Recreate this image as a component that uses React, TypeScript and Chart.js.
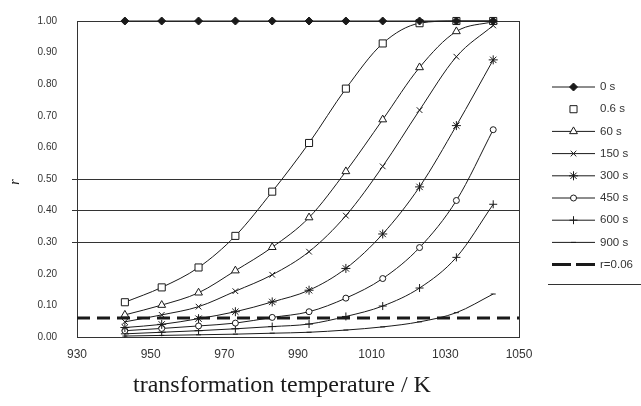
import { useEffect, useRef } from "react";
import { Chart, registerables } from "chart.js";
import { drawPoint } from "chart.js/helpers";

Chart.register(...registerables);

// Transformation temperatures (K)
const temperatures = [943, 953, 963, 973, 983, 993, 1003, 1013, 1023, 1033, 1043];

// Transformed fraction r for each holding time
const r0s = [1.0, 1.0, 1.0, 1.0, 1.0, 1.0, 1.0, 1.0, 1.0, 1.0, 1.0];
const r06s = [0.11, 0.157, 0.22, 0.32, 0.46, 0.614, 0.786, 0.929, 0.993, 1.0, 1.0];
const r60s = [0.07, 0.101, 0.14, 0.21, 0.284, 0.378, 0.524, 0.688, 0.853, 0.967, 0.998];
const r150s = [0.048, 0.07, 0.096, 0.145, 0.197, 0.27, 0.384, 0.54, 0.718, 0.887, 0.986];
const r300s = [0.03, 0.04, 0.058, 0.08, 0.111, 0.148, 0.217, 0.326, 0.475, 0.669, 0.877];
const r450s = [0.02, 0.027, 0.035, 0.044, 0.062, 0.08, 0.123, 0.185, 0.283, 0.432, 0.656];
const r600s = [0.01, 0.015, 0.02, 0.026, 0.033, 0.041, 0.065, 0.098, 0.155, 0.252, 0.42];
const r900s = [0.003, 0.005, 0.007, 0.009, 0.012, 0.015, 0.022, 0.032, 0.048, 0.077, 0.136];

const seriesLabels = ["0 s", "0.6 s", "60 s", "150 s", "300 s", "450 s", "600 s", "900 s"];
const seriesValues = [r0s, r06s, r60s, r150s, r300s, r450s, r600s, r900s];

// Threshold line
const thresholdLabel = "r=0.06";
const thresholdValue = 0.06;

// Reference levels drawn as horizontal lines
const referenceLevels = [0.3, 0.4, 0.5];

// Axes
const X_MIN = 930;
const X_MAX = 1050;
const X_STEP = 20;
const Y_MIN = 0;
const Y_MAX = 1;
const Y_STEP = 0.1;
const xTitle = "transformation temperature / K";
const yTitle = "r";

const INK = "#1a1a1a";

type MarkerStyle = {
  pointStyle: string;
  radius: number;
  fill: string;
  showLine: boolean;
};

const markers: MarkerStyle[] = [
  { pointStyle: "rectRot", radius: 4, fill: INK, showLine: true },
  { pointStyle: "rect", radius: 5, fill: "#fff", showLine: false },
  { pointStyle: "triangle", radius: 4.5, fill: "#fff", showLine: true },
  { pointStyle: "crossRot", radius: 4, fill: "#fff", showLine: true },
  { pointStyle: "star", radius: 4.5, fill: "#fff", showLine: true },
  { pointStyle: "circle", radius: 3, fill: "#fff", showLine: true },
  { pointStyle: "cross", radius: 4, fill: "#fff", showLine: true },
  { pointStyle: "line", radius: 2.5, fill: "#fff", showLine: true },
];

const framePlugin = {
  id: "frame",
  beforeDatasetsDraw(chart: any) {
    const { ctx, chartArea } = chart;
    ctx.save();
    ctx.strokeStyle = "#333";
    ctx.lineWidth = 1;
    ctx.strokeRect(
      Math.round(chartArea.left) + 0.5,
      Math.round(chartArea.top) + 0.5,
      Math.round(chartArea.right - chartArea.left),
      Math.round(chartArea.bottom - chartArea.top)
    );
    ctx.restore();
  },
};

const titlesPlugin = {
  id: "axisTitles",
  afterDraw(chart: any) {
    const { ctx, chartArea } = chart;
    ctx.save();
    ctx.fillStyle = INK;
    ctx.textAlign = "center";
    ctx.textBaseline = "middle";
    ctx.font = '24px "Liberation Serif"';
    ctx.fillText(xTitle, (chartArea.left + chartArea.right) / 2 - 16, 386);
    ctx.translate(15, (chartArea.top + chartArea.bottom) / 2 + 3);
    ctx.rotate(-Math.PI / 2);
    ctx.font = 'italic 14px "Liberation Serif"';
    ctx.fillText(yTitle, 0, 0);
    ctx.restore();
  },
};

const legendPlugin = {
  id: "sideLegend",
  afterDraw(chart: any) {
    const { ctx } = chart;
    const x0 = 552;
    const x1 = 595;
    const tx = 600;
    const top = 87;
    const step = 22.2;
    ctx.save();
    chart.data.datasets.forEach((ds: any, i: number) => {
      const y = top + i * step;
      if (ds.legendLine) {
        ctx.beginPath();
        ctx.strokeStyle = INK;
        ctx.lineWidth = ds.borderWidth;
        ctx.setLineDash(ds.legendDash || []);
        ctx.moveTo(x0, y);
        ctx.lineTo(x1, y);
        ctx.stroke();
        ctx.setLineDash([]);
      }
      if (ds.pointRadius > 0) {
        ctx.fillStyle = ds.pointBackgroundColor;
        ctx.strokeStyle = INK;
        ctx.lineWidth = 1;
        drawPoint(
          ctx,
          { pointStyle: ds.pointStyle, radius: ds.pointRadius, rotation: 0, borderWidth: 1 } as any,
          (x0 + x1) / 2,
          y
        );
      }
      ctx.fillStyle = "#333";
      ctx.font = '11.5px "Liberation Sans"';
      ctx.textAlign = "left";
      ctx.textBaseline = "middle";
      ctx.fillText(ds.label, tx, y);
    });
    const lineY = top + (chart.data.datasets.length - 1) * step + 19;
    ctx.beginPath();
    ctx.strokeStyle = "#333";
    ctx.lineWidth = 1;
    ctx.moveTo(548, Math.round(lineY) + 0.5);
    ctx.lineTo(641, Math.round(lineY) + 0.5);
    ctx.stroke();
    ctx.restore();
  },
};

export default function App() {
  const canvasRef = useRef<HTMLCanvasElement | null>(null);

  useEffect(() => {
    document.body.style.margin = "0";
    const canvas = canvasRef.current;
    if (!canvas) return;

    const seriesSets = seriesLabels.map((label, i) => {
      const m = markers[i];
      return {
        label,
        data: temperatures.map((t, k) => ({ x: t, y: seriesValues[i][k] })),
        borderColor: INK,
        borderWidth: 1,
        pointStyle: m.pointStyle,
        pointRadius: m.radius,
        pointBackgroundColor: m.fill,
        pointBorderColor: INK,
        pointBorderWidth: 1,
        tension: 0.4,
        cubicInterpolationMode: "monotone",
        clip: false,
        legendLine: m.showLine,
        order: 1,
      };
    });

    const thresholdSet = {
      label: thresholdLabel,
      data: [
        { x: X_MIN, y: thresholdValue },
        { x: X_MAX, y: thresholdValue },
      ],
      borderColor: INK,
      borderWidth: 3,
      borderDash: [13, 7],
      legendDash: [19, 5],
      pointRadius: 0,
      clip: false,
      legendLine: true,
      order: 0,
    };

    const chart = new Chart(canvas, {
      type: "line",
      data: { datasets: [...seriesSets, thresholdSet] as any },
      plugins: [framePlugin, titlesPlugin, legendPlugin],
      options: {
        animation: false,
        responsive: false,
        devicePixelRatio: 1,
        layout: { padding: { top: 15, right: 122, left: 0, bottom: 0 } },
        plugins: {
          legend: { display: false },
          tooltip: { enabled: false },
        },
        scales: {
          x: {
            type: "linear",
            min: X_MIN,
            max: X_MAX,
            border: { display: false },
            grid: { display: false },
            ticks: {
              stepSize: X_STEP,
              padding: 2,
              color: "#333",
              font: { family: "Liberation Sans", size: 12 },
              callback: (v: any) => String(v),
            },
            afterFit: (s: any) => {
              s.height = 69;
            },
          },
          y: {
            type: "linear",
            min: Y_MIN,
            max: Y_MAX,
            border: { display: false },
            grid: {
              drawTicks: true,
              tickLength: 5,
              lineWidth: 1,
              color: (c: any) =>
                referenceLevels.some((lv) => Math.abs(c.tick.value - lv) < 1e-6) ? "#333" : "rgba(0,0,0,0)",
            },
            ticks: {
              stepSize: Y_STEP,
              padding: 15,
              color: "#333",
              font: { family: "Liberation Sans", size: 10 },
              callback: (v: any) => Number(v).toFixed(2),
            },
            afterFit: (s: any) => {
              s.width = 77;
            },
          },
        },
      } as any,
    });

    return () => chart.destroy();
  }, []);

  return (
    <div style={{ width: 641, height: 406 }}>
      <canvas ref={canvasRef} width={641} height={406} style={{ width: 641, height: 406, display: "block" }} />
    </div>
  );
}
